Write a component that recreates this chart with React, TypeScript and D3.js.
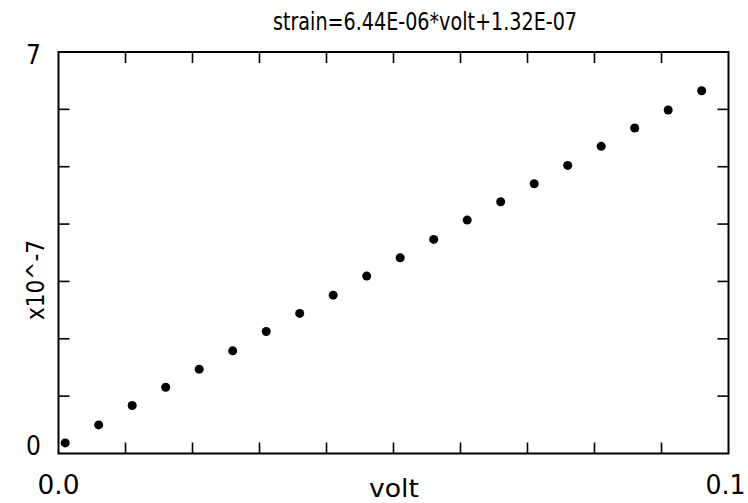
import React from "react";
import * as d3 from "d3";

// Calibration readings: strain (in units of 1e-7) against applied volt
const volts = [
  0.001, 0.006, 0.011, 0.016, 0.021, 0.026, 0.031, 0.036, 0.041, 0.046,
  0.051, 0.056, 0.061, 0.066, 0.071, 0.076, 0.081, 0.086, 0.091, 0.096,
];
const strain = [
  0.185, 0.499, 0.837, 1.156, 1.47, 1.79, 2.128, 2.442, 2.761, 3.093,
  3.412, 3.733, 4.069, 4.389, 4.703, 5.023, 5.355, 5.674, 5.988, 6.325,
];
const xTicks = [0.01, 0.02, 0.03, 0.04, 0.05, 0.06, 0.07, 0.08, 0.09];
const yTicks = [1, 2, 3, 4, 5, 6];
const xEndLabels = ["0.0", "0.1"];
const yEndLabels = ["0", "7"];
const title = "strain=6.44E-06*volt+1.32E-07";

const W = 748;
const H = 503;
const left = 58.5;
const right = 728.5;
const top = 52;
const bottom = 453.5;

const FONT = "'Liberation Sans Narrow', 'Arial Narrow', 'DejaVu Sans Condensed', sans-serif";

export default function App() {
  const x = d3.scaleLinear().domain([0, 0.1]).range([left, right]);
  const y = d3.scaleLinear().domain([0, 7]).range([bottom, top]);
  const tickLen = 11;

  return (
    <svg
      width={W}
      height={H}
      viewBox={`0 0 ${W} ${H}`}
      style={{ position: "absolute", left: 0, top: 0, background: "#fff" }}
    >
      <rect x={0} y={0} width={W} height={H} fill="#fff" />
      <text
        x={425}
        y={30}
        textAnchor="middle"
        fontFamily={FONT}
        fontSize={25}
        textLength={304}
        lengthAdjust="spacingAndGlyphs"
        fill="#000"
      >
        {title}
      </text>

      {/* inward ticks on all four sides */}
      {xTicks.map((t) => (
        <g key={`xt${t}`}>
          <line x1={x(t)} x2={x(t)} y1={bottom} y2={bottom - tickLen} stroke="#000" strokeWidth={1.6} />
          <line x1={x(t)} x2={x(t)} y1={top} y2={top + tickLen} stroke="#000" strokeWidth={1.6} />
        </g>
      ))}
      {yTicks.map((t) => (
        <g key={`yt${t}`}>
          <line x1={left} x2={left + tickLen} y1={y(t)} y2={y(t)} stroke="#000" strokeWidth={1.6} />
          <line x1={right} x2={right - tickLen} y1={y(t)} y2={y(t)} stroke="#000" strokeWidth={1.6} />
        </g>
      ))}

      <rect
        x={left}
        y={top}
        width={right - left}
        height={bottom - top}
        fill="none"
        stroke="#000"
        strokeWidth={2}
      />

      {volts.map((v, i) => (
        <circle key={i} cx={x(v)} cy={y(strain[i])} r={4.5} fill="#000" />
      ))}

      {/* axis end labels */}
      <text x={x(0)} y={494} textAnchor="middle" fontFamily={FONT} fontSize={26}
        textLength={42} lengthAdjust="spacingAndGlyphs" fill="#000">
        {xEndLabels[0]}
      </text>
      <text x={x(0.1) - 3} y={494} textAnchor="middle" fontFamily={FONT} fontSize={26}
        textLength={40} lengthAdjust="spacingAndGlyphs" fill="#000">
        {xEndLabels[1]}
      </text>
      <text x={41} y={y(0) + 1} textAnchor="end" fontFamily={FONT} fontSize={26} fill="#000">
        {yEndLabels[0]}
      </text>
      <text x={41} y={y(7) + 12} textAnchor="end" fontFamily={FONT} fontSize={26} fill="#000">
        {yEndLabels[1]}
      </text>

      <text x={394} y={497} textAnchor="middle" fontFamily={FONT} fontSize={25}
        textLength={50} lengthAdjust="spacingAndGlyphs" fill="#000">
        volt
      </text>
      <text
        transform={`translate(44, 280) rotate(-90)`}
        textAnchor="middle"
        fontFamily={FONT}
        fontSize={25}
        textLength={80}
        lengthAdjust="spacingAndGlyphs"
        fill="#000"
      >
        x10^-7
      </text>
    </svg>
  );
}
